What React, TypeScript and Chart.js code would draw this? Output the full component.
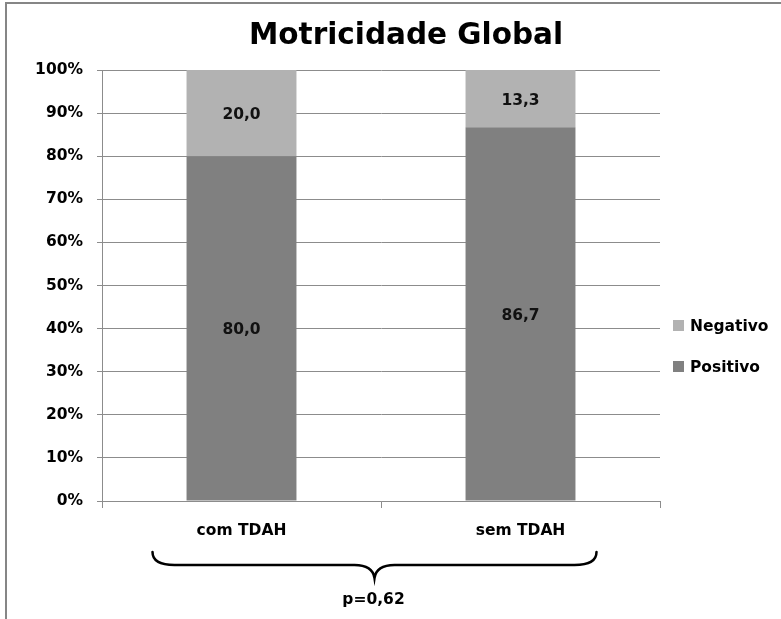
import React, { useEffect, useRef } from "react";
import { Chart, registerables } from "chart.js";

Chart.register(...registerables);

// Grupos comparados e percentuais de cada resultado
const categories = ["com TDAH", "sem TDAH"];
const positivo = [80.0, 86.7];
const negativo = [20.0, 13.3];
const seriesNames = ["Positivo", "Negativo"];
const seriesColors = ["#808080", "#b2b2b2"];
const chartTitle = "Motricidade Global";
const pValueLabel = "p=0,62";

const FONT = "'DejaVu Sans', sans-serif";
const W = 781;
const H = 619;

const fmt = (v: number) => v.toFixed(1).replace(".", ",");

// Moldura cinza, título, rótulos dos segmentos, legenda e chave com o valor-p
const decorPlugin = {
  id: "decor",
  beforeDraw(chart: any) {
    const { ctx } = chart;
    ctx.save();
    ctx.fillStyle = "#ffffff";
    ctx.fillRect(0, 0, W, H);
    ctx.strokeStyle = "#868686";
    ctx.lineWidth = 2;
    ctx.strokeRect(6, 3, W + 40, H + 40);
    ctx.restore();
  },
  afterDatasetsDraw(chart: any) {
    const { ctx } = chart;
    ctx.save();
    ctx.font = `bold 15.5px ${FONT}`;
    ctx.fillStyle = "#111111";
    ctx.textAlign = "center";
    ctx.textBaseline = "middle";
    chart.data.datasets.forEach((ds: any, di: number) => {
      const meta = chart.getDatasetMeta(di);
      meta.data.forEach((bar: any, i: number) => {
        const { x, y, base } = bar.getProps(["x", "y", "base"], true);
        ctx.fillText(fmt(ds.data[i]), x, (y + base) / 2 + 2);
      });
    });
    ctx.restore();
  },
  afterDraw(chart: any) {
    const { ctx, chartArea } = chart;
    const xs = chart.scales.x;
    ctx.save();

    // título
    ctx.fillStyle = "#000000";
    ctx.font = `bold 29.5px ${FONT}`;
    ctx.textAlign = "center";
    ctx.textBaseline = "middle";
    ctx.fillText(chartTitle, 406, 36);

    // legenda (série superior primeiro)
    ctx.font = `bold 15.5px ${FONT}`;
    ctx.textAlign = "left";
    const items = chart.data.datasets.map((d: any) => d).reverse();
    items.forEach((d: any, i: number) => {
      const cy = 325.5 + i * 41;
      ctx.fillStyle = d.backgroundColor;
      ctx.fillRect(chartArea.right + 13, cy - 5.5, 11, 11);
      ctx.fillStyle = "#000000";
      ctx.fillText(d.label, chartArea.right + 30, cy + 1);
    });

    // chave sob as categorias
    const x0 = xs.getPixelForValue(0);
    const x1 = xs.getPixelForValue(1);
    const L = x0 - 89;
    const R = x1 + 76;
    const C = (L + R) / 2;
    const top = chartArea.bottom + 51;
    const mid = top + 13;
    const tip = top + 26;
    ctx.strokeStyle = "#000000";
    ctx.lineWidth = 2.5;
    ctx.lineCap = "round";
    ctx.beginPath();
    ctx.moveTo(L, top);
    ctx.quadraticCurveTo(L, mid, L + 22, mid);
    ctx.lineTo(C - 20, mid);
    ctx.quadraticCurveTo(C - 2, mid, C, tip);
    ctx.quadraticCurveTo(C + 2, mid, C + 20, mid);
    ctx.lineTo(R - 22, mid);
    ctx.quadraticCurveTo(R, mid, R, top);
    ctx.stroke();

    ctx.fillStyle = "#000000";
    ctx.font = `bold 15.5px ${FONT}`;
    ctx.textAlign = "center";
    ctx.textBaseline = "middle";
    ctx.fillText(pValueLabel, C - 1, tip + 22);
    ctx.restore();
  },
};

export default function App() {
  const canvasRef = useRef<HTMLCanvasElement | null>(null);

  useEffect(() => {
    if (!canvasRef.current) return;
    const chart = new Chart(canvasRef.current, {
      type: "bar",
      data: {
        labels: categories,
        datasets: [
          {
            label: seriesNames[0],
            data: positivo,
            backgroundColor: seriesColors[0],
            barPercentage: 0.394,
            categoryPercentage: 1,
          },
          {
            label: seriesNames[1],
            data: negativo,
            backgroundColor: seriesColors[1],
            barPercentage: 0.394,
            categoryPercentage: 1,
          },
        ],
      },
      options: {
        responsive: false,
        animation: false,
        layout: { padding: { left: 0, top: 70, right: 121, bottom: 0 } },
        plugins: {
          legend: { display: false },
          title: { display: false },
          tooltip: { enabled: false },
        },
        scales: {
          x: {
            stacked: true,
            afterFit: (s: any) => {
              s.height = H - 501;
            },
            grid: {
              offset: true,
              drawOnChartArea: false,
              drawTicks: true,
              tickLength: 7,
              color: "#8c8c8c",
            },
            border: { display: true, color: "#8c8c8c" },
            ticks: {
              padding: 14,
              color: "#000000",
              font: { family: FONT, size: 15.5, weight: "bold" },
            },
          },
          y: {
            stacked: true,
            min: 0,
            max: 100,
            afterFit: (s: any) => {
              s.width = 102;
            },
            ticks: {
              stepSize: 10,
              padding: 14,
              color: "#000000",
              font: { family: FONT, size: 15.5, weight: "bold" },
              callback: (v: any) => `${v}%`,
            },
            grid: { color: "#8c8c8c", tickLength: 5 },
            border: { display: true, color: "#8c8c8c" },
          },
        },
      },
      plugins: [decorPlugin],
    });
    return () => chart.destroy();
  }, []);

  return (
    <div style={{ position: "fixed", left: 0, top: 0, width: W, height: H }}>
      <canvas ref={canvasRef} width={W} height={H} style={{ display: "block" }} />
    </div>
  );
}
